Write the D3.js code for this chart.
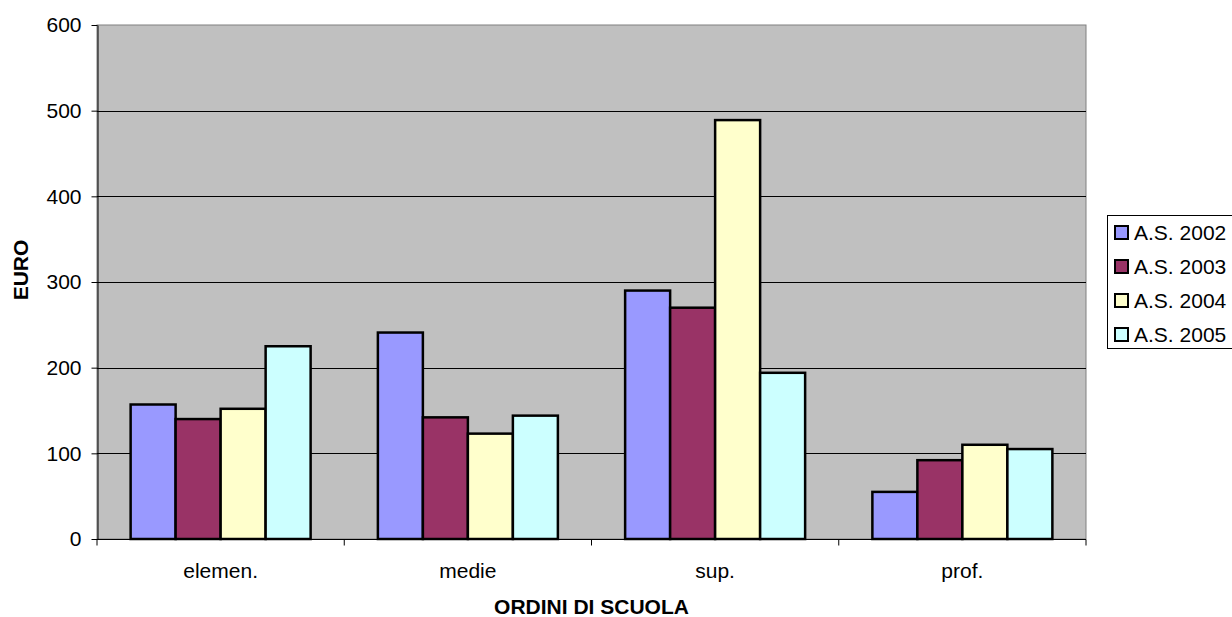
<!DOCTYPE html>
<html>
<head>
<meta charset="utf-8">
<script src="https://cdn.jsdelivr.net/npm/d3@7"></script>
<style>
  html, body { margin: 0; padding: 0; background: #fff; }
  svg { display: block; font-family: "Liberation Sans", Arial, sans-serif; }
</style>
</head>
<body>
<svg id="chart" width="1232" height="617"></svg>
<script>
// School levels and yearly spending (EURO)
const categories = ["elemen.", "medie", "sup.", "prof."];
const seriesNames = ["A.S. 2002", "A.S. 2003", "A.S. 2004", "A.S. 2005"];
const as2002 = [157, 241, 290, 55];
const as2003 = [140, 142, 270, 92];
const as2004 = [152, 123, 489, 110];
const as2005 = [225, 144, 194, 105];
const yTicks = [0, 100, 200, 300, 400, 500, 600];
const colors = ["#9999ff", "#993366", "#ffffcc", "#ccffff"];

const seriesValues = [as2002, as2003, as2004, as2005];
const FONT = "Liberation Sans, Arial, sans-serif";
const FS = 21;

const svg = d3.select("#chart");
const plot = { left: 97, right: 1086, top: 25, bottom: 539 };

const x0 = d3.scaleBand().domain(categories).range([plot.left, plot.right]).padding(0);
const bw = x0.bandwidth();
const groupPad = (bw - 180) / 2;
const x1 = d3.scaleBand().domain(seriesNames).range([groupPad, bw - groupPad]).padding(0);
const y = d3.scaleLinear().domain([0, 600]).range([plot.bottom, plot.top]);

// Plot background
svg.append("rect")
  .attr("x", plot.left).attr("y", plot.top)
  .attr("width", plot.right - plot.left).attr("height", plot.bottom - plot.top)
  .attr("fill", "#c0c0c0").attr("stroke", "#808080").attr("stroke-width", 1);

// Horizontal gridlines
svg.append("g").selectAll("line")
  .data(yTicks.filter(d => d > 0 && d < 600))
  .join("line")
  .attr("x1", plot.left).attr("x2", plot.right)
  .attr("y1", d => Math.round(y(d)) + 0.5).attr("y2", d => Math.round(y(d)) + 0.5)
  .attr("stroke", "#000").attr("stroke-width", 1);

// Bars
const groups = svg.append("g").selectAll("g")
  .data(categories)
  .join("g")
  .attr("transform", d => `translate(${x0(d)},0)`);

groups.selectAll("rect")
  .data((c, i) => seriesNames.map((s, j) => ({ s, v: seriesValues[j][i], j })))
  .join("rect")
  .attr("x", d => x1(d.s))
  .attr("y", d => y(d.v))
  .attr("width", x1.bandwidth())
  .attr("height", d => y(0) - y(d.v))
  .attr("fill", d => colors[d.j])
  .attr("stroke", "#000")
  .attr("stroke-width", 2.5);

// Y axis
const yAxis = d3.axisLeft(y).tickValues(yTicks).tickSize(6).tickPadding(10).tickSizeOuter(0);
const yg = svg.append("g").attr("transform", `translate(${plot.left + 0.5},0)`).call(yAxis);
yg.attr("font-size", FS).attr("font-family", FONT);
yg.select(".domain").attr("stroke", "#000");
yg.selectAll(".tick line").attr("stroke", "#000");
yg.selectAll(".tick text").attr("fill", "#000");

// X axis with tick marks at category boundaries
const xg = svg.append("g").attr("transform", `translate(0,${plot.bottom + 0.5})`);
xg.append("line")
  .attr("x1", plot.left).attr("x2", plot.right)
  .attr("stroke", "#000");
xg.selectAll("line.tk")
  .data(d3.range(categories.length + 1))
  .join("line").attr("class", "tk")
  .attr("x1", i => plot.left + i * bw).attr("x2", i => plot.left + i * bw)
  .attr("y1", 0).attr("y2", 6)
  .attr("stroke", "#000");
xg.selectAll("text")
  .data(categories)
  .join("text")
  .attr("x", d => x0(d) + bw / 2)
  .attr("y", 38)
  .attr("text-anchor", "middle")
  .attr("font-size", FS)
  .attr("fill", "#000")
  .text(d => d);

// Axis titles
svg.append("text")
  .attr("x", (plot.left + plot.right) / 2)
  .attr("y", 614)
  .attr("text-anchor", "middle")
  .attr("font-size", FS).attr("font-weight", "bold")
  .text("ORDINI DI SCUOLA");

svg.append("text")
  .attr("transform", "translate(28,270) rotate(-90)")
  .attr("text-anchor", "middle")
  .attr("font-size", FS).attr("font-weight", "bold")
  .text("EURO");

// Legend
const lg = svg.append("g").attr("transform", "translate(1107,215)");
lg.append("rect")
  .attr("x", 0.5).attr("y", 0.5).attr("width", 140).attr("height", 133)
  .attr("fill", "#fff").attr("stroke", "#000");
const items = lg.selectAll("g.item")
  .data(seriesNames)
  .join("g").attr("class", "item")
  .attr("transform", (d, i) => `translate(8,${17 + i * 34})`);
items.append("rect")
  .attr("x", 0).attr("y", -6).attr("width", 13).attr("height", 13)
  .attr("fill", (d, i) => colors[i]).attr("stroke", "#000").attr("stroke-width", 2);
items.append("text")
  .attr("x", 19).attr("y", 0).attr("dy", "0.36em")
  .attr("font-size", FS).attr("fill", "#000")
  .text(d => d);
</script>
</body>
</html>
